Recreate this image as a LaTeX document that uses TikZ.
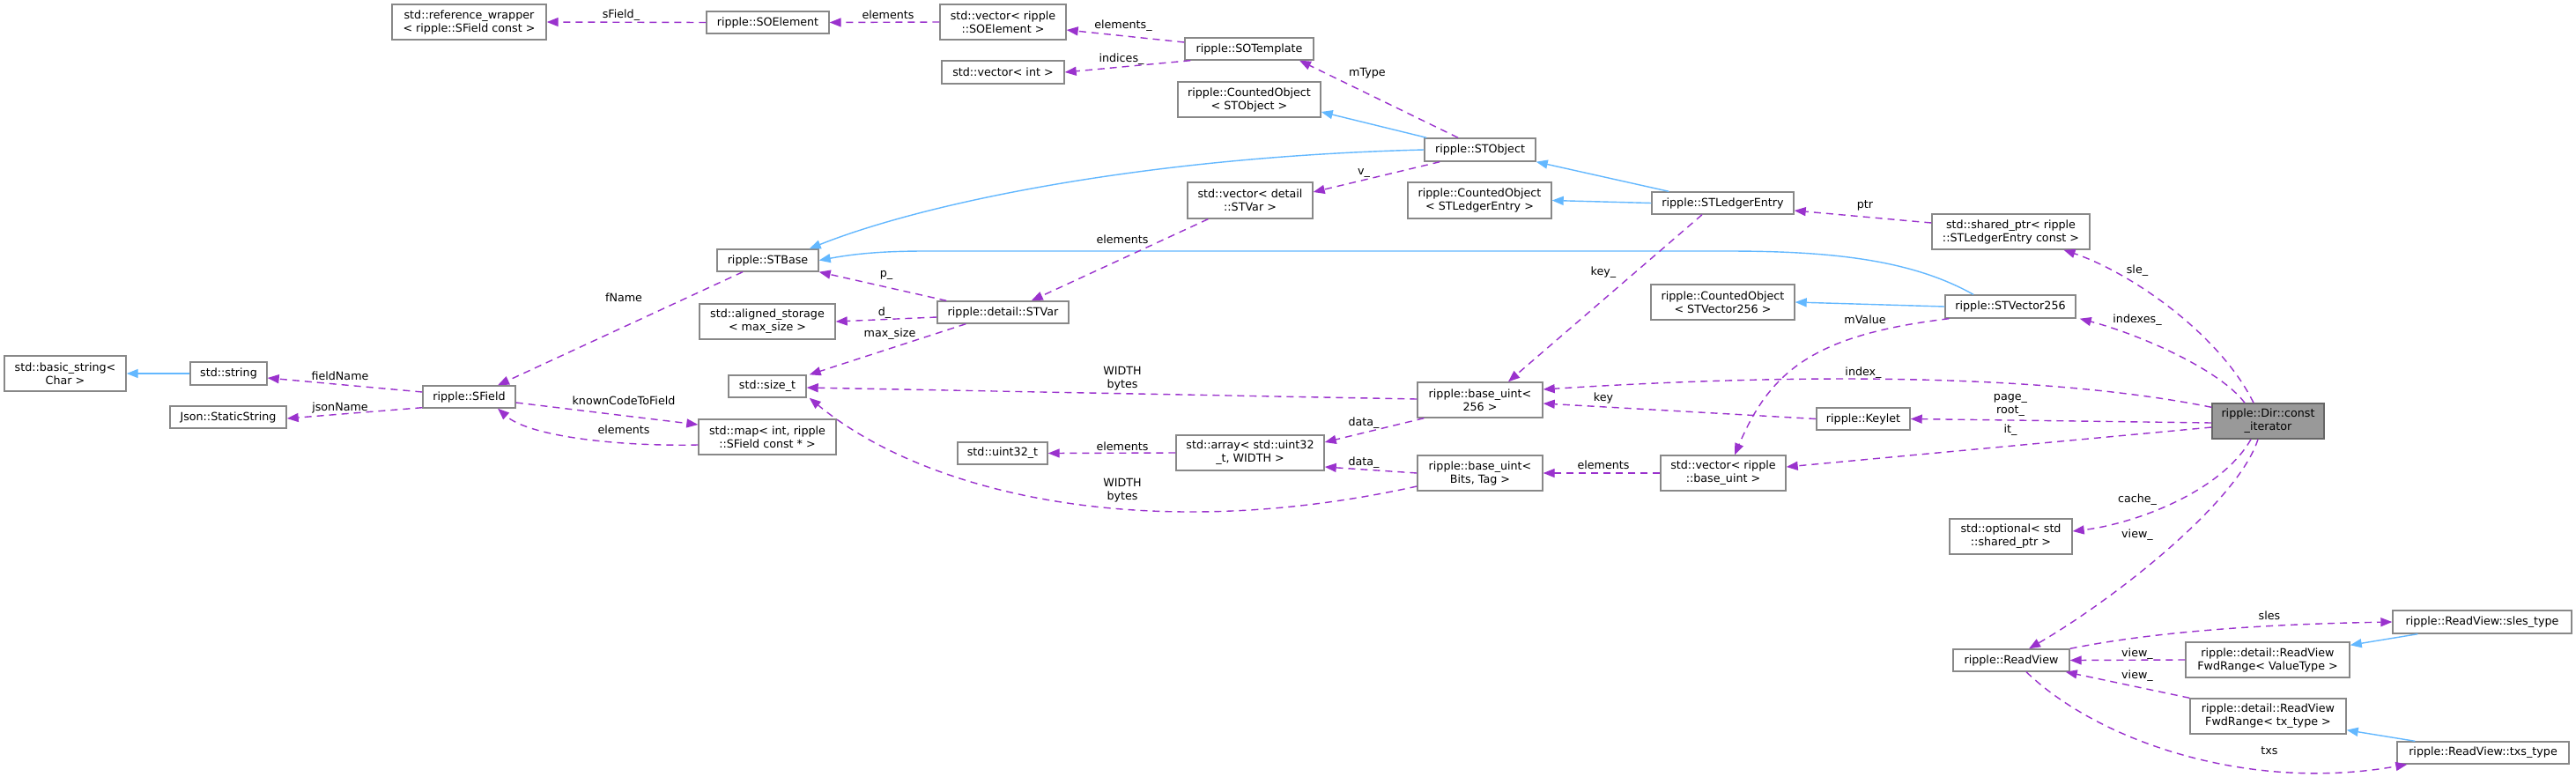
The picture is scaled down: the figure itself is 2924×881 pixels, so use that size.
\documentclass[tikz,border=0pt]{standalone}
\usepackage{fontspec}
\setmainfont{DejaVu Sans}
\usetikzlibrary{arrows.meta}
\definecolor{edgepurple}{HTML}{9A32CD}
\definecolor{edgeblue}{HTML}{63B8FF}
\definecolor{boxborder}{HTML}{888888}
\definecolor{focusfill}{HTML}{999999}
\definecolor{focusborder}{HTML}{666666}
\newcommand\bx[7][]{\node[box,#1,minimum width={(#5-#3)*1pt},minimum height={(#6-#4)*1pt}] (#2) at ({(#3+#5)/2},{(#4+#6)/2}) {#7};}
\tikzset{
  box/.style={draw=boxborder,line width=1.4pt,fill=white,inner sep=0pt,align=center,font=\fontsize{12.7}{15}\selectfont},
  lbl/.style={inner sep=0pt,align=center,font=\fontsize{12.7}{15}\selectfont},
  uses/.style={draw=edgepurple,line width=1.4pt,dash pattern=on 8pt off 6pt,-{Triangle[length=13pt,width=10pt]}},
  inh/.style={draw=edgeblue,line width=1.4pt,-{Triangle[length=13pt,width=10pt]}}
}
\begin{document}
\begin{tikzpicture}[x=1pt,y=-1pt]
\useasboundingbox[fill=white] (0,0) rectangle (2924,881);
% nodes
\bx{refwrap}{445}{5}{620}{45}{std::reference\_wrapper\\< ripple::SField const >}
\bx{soelem}{802}{13}{941}{38}{ripple::SOElement}
\bx{vecsoelem}{1067}{5}{1210}{45}{std::vector< ripple\\::SOElement >}
\bx{sotempl}{1345}{43}{1491}{68}{ripple::SOTemplate}
\bx{vecint}{1069}{69}{1208}{95}{std::vector< int >}
\bx{coSTObj}{1337}{93}{1499}{133}{ripple::CountedObject\\< STObject >}
\bx{stobj}{1617}{157}{1743}{183}{ripple::STObject}
\bx{vecstvar}{1348}{207}{1490}{248}{std::vector< detail\\::STVar >}
\bx{coSLE}{1598}{207}{1761}{248}{ripple::CountedObject\\< STLedgerEntry >}
\bx{sle}{1875}{218}{2036}{243}{ripple::STLedgerEntry}
\bx{shptr}{2193}{243}{2372}{283}{std::shared\_ptr< ripple\\::STLedgerEntry const >}
\bx{stbase}{814}{283}{929}{308}{ripple::STBase}
\bx{stvar}{1064}{342}{1213}{367}{ripple::detail::STVar}
\bx{aligned}{794}{345}{948}{385}{std::aligned\_storage\\< max\_size >}
\bx{coV}{1874}{323}{2037}{363}{ripple::CountedObject\\< STVector256 >}
\bx{stv}{2208}{335}{2356}{361}{ripple::STVector256}
\bx{basicstr}{5}{404}{143}{444}{std::basic\_string<\\Char >}
\bx{string}{216}{411}{303}{437}{std::string}
\bx{sfield}{480}{438}{585}{463}{ripple::SField}
\bx{jsonss}{193}{461}{325}{486}{Json::StaticString}
\bx{sizet}{827}{426}{915}{451}{std::size\_t}
\bx{map}{793}{476}{949}{516}{std::map< int, ripple\\::SField const * >}
\bx{bu}{1609}{434}{1751}{474}{ripple::base\_uint<\\256 >}
\bx{keylet}{2062}{463}{2168}{488}{ripple::Keylet}
\bx[fill=focusfill,draw=focusborder]{iter}{2511}{458}{2638}{498}{ripple::Dir::const\\\_iterator}
\bx{array}{1335}{494}{1503}{534}{std::array< std::uint32\\\_t, WIDTH >}
\bx{uint}{1087}{502}{1189}{527}{std::uint32\_t}
\bx{buBT}{1609}{517}{1751}{557}{ripple::base\_uint<\\Bits, Tag >}
\bx{vecbu}{1885}{517}{2027}{557}{std::vector< ripple\\::base\_uint >}
\bx{optional}{2213}{589}{2352}{629}{std::optional< std\\::shared\_ptr >}
\bx{readview}{2217}{737}{2349}{762}{ripple::ReadView}
\bx{slestype}{2716}{693}{2919}{719}{ripple::ReadView::sles\_type}
\bx{fwdVT}{2481}{729}{2667}{769}{ripple::detail::ReadView\\FwdRange< ValueType >}
\bx{fwdTX}{2486}{793}{2663}{833}{ripple::detail::ReadView\\FwdRange< tx\_type >}
\bx{txstype}{2721}{842}{2916}{867}{ripple::ReadView::txs\_type}
% inheritance edges
\draw[inh] ([xshift=3pt]stobj.north west) -- ([yshift=-14pt]coSTObj.east);
\draw[inh] (sle.west) -- (coSLE.east);
\draw[inh] ([xshift=20pt]sle.north west) -- (stobj.south east);
\draw[inh] (stobj.west) .. controls (1300,178) and (1050,230) .. ([xshift=-11pt]stbase.north east);
\draw[inh] ([xshift=-42pt]stv.north) .. controls (2170,295) and (2080,285) .. (1960,285) -- (1050,285) .. controls (990,285) and (960,290) .. (stbase.east);
\draw[inh] (stv.west) -- (coV.east);
\draw[inh] (string.west) -- (basicstr.east);
\draw[inh] ([xshift=29pt]slestype.south west) -- ([yshift=-4pt]fwdVT.north east);
\draw[inh] ([xshift=21pt]txstype.north west) -- ([yshift=5pt]fwdTX.south east);
% usage edges
\draw[uses] (soelem.west) -- (refwrap.east);
\draw[uses] (vecsoelem.west) -- (soelem.east);
\draw[uses] ([yshift=7.5pt]sotempl.west) -- ([yshift=-9pt]vecsoelem.east);
\draw[uses] ([xshift=7pt]sotempl.south west) -- (vecint.east);
\draw[uses] ([xshift=-25pt]stobj.north) -- ([xshift=57pt]sotempl.south);
\draw[uses] ([xshift=18pt]stobj.south west) -- ([yshift=9.5pt]vecstvar.east);
\draw[uses] ([xshift=-23.5pt]sle.south) -- ([xshift=32pt]bu.north);
\draw[uses] ([yshift=10pt]shptr.west) -- ([yshift=-8.5pt]sle.east);
\draw[uses] ([xshift=5pt]stv.south west) .. controls (2060,380) and (2010,420) .. ([xshift=13pt]vecbu.north);
\draw[uses] ([xshift=-16.5pt]iter.north) .. controls (2520,380) and (2420,310) .. ([xshift=60pt]shptr.south);
\draw[uses] ([xshift=-26.5pt]iter.north) .. controls (2520,420) and (2430,380) .. ([xshift=4pt]stv.south east);
\draw[uses] ([yshift=-5pt]iter.north west) .. controls (2350,430) and (2100,420) .. ([yshift=12pt]bu.east);
\draw[uses] ([yshift=-2pt]iter.west) -- (keylet.east);
\draw[uses] (keylet.west) -- ([yshift=-4pt]bu.east);
\draw[uses] ([yshift=-7pt]iter.west) -- ([yshift=7pt]vecbu.east);
\draw[uses] ([xshift=-19.5pt]iter.south) .. controls (2520,560) and (2420,595) .. ([yshift=6pt]optional.east);
\draw[uses] ([xshift=-11.5pt]iter.south) .. controls (2540,570) and (2400,680) .. ([xshift=20pt]readview.north);
\draw[uses] (readview.north east) .. controls (2460,714) and (2600,708) .. (slestype.west);
\draw[uses] (fwdVT.west) -- (readview.east);
\draw[uses] (fwdTX.north west) -- ([xshift=-5pt]readview.south east);
\draw[uses] ([xshift=17pt]readview.south) .. controls (2380,840) and (2550,900) .. ([xshift=12pt]txstype.south west);
\draw[uses] ([yshift=5.5pt]sfield.west) -- ([yshift=-5pt]string.east);
\draw[uses] ([yshift=1pt]sfield.south west) -- ([yshift=-1.5pt]jsonss.east);
\draw[uses] ([xshift=-28.5pt]stbase.south) -- ([xshift=32.5pt]sfield.north);
\draw[uses] ([yshift=-6.5pt]sfield.east) -- ([yshift=14pt]map.west);
\draw[uses] ([yshift=-9pt]map.west) .. controls (700,507) and (600,495) .. ([xshift=32.5pt]sfield.south);
\draw[uses] ([xshift=11pt]stvar.north west) -- (stbase.south east);
\draw[uses] ([yshift=-5.5pt]stvar.west) -- (aligned.east);
\draw[uses] ([xshift=33pt]stvar.south west) -- ([xshift=3pt]sizet.north east);
\draw[uses] ([xshift=24pt]vecstvar.south west) -- ([xshift=-43pt]stvar.north east);
\draw[uses] ([yshift=1pt]bu.west) -- ([yshift=-1.5pt]sizet.east);
\draw[uses] ([xshift=8pt]bu.south west) -- ([yshift=12pt]array.east);
\draw[uses] (array.west) -- (uint.east);
\draw[uses] (buBT.west) -- ([yshift=-16pt]array.east);
\draw[uses] (vecbu.west) -- (buBT.east);
\draw[uses] ([yshift=-15pt]buBT.west) .. controls (1300,620) and (1050,560) .. ([xshift=3pt]sizet.south east);
% labels
\node[lbl] (l1) at (705,17) {sField\_};
\node[lbl] (l2) at (1008,17) {elements};
\node[lbl] (l3) at (1275,29) {elements\_};
\node[lbl] (l4) at (1273,67) {indices\_};
\node[lbl] (l5) at (1552,83) {mType};
\node[lbl] (l6) at (1548,197) {v\_};
\node[lbl] (l7) at (1274,272) {elements};
\node[lbl] (l8) at (2117,233) {ptr};
\node[lbl] (l9) at (1820,309) {key\_};
\node[lbl] (l10) at (2426,307) {sle\_};
\node[lbl] (l11) at (2426,363) {indexes\_};
\node[lbl] (l12) at (2117,363) {mValue};
\node[lbl] (l13) at (2115,423) {index\_};
\node[lbl] (l14) at (2282,460) {page\_\\root\_};
\node[lbl] (l15) at (2282,488) {it\_};
\node[lbl] (l16) at (1820,452) {key};
\node[lbl] (l17) at (1820,528) {elements};
\node[lbl] (l18) at (2426,567) {cache\_};
\node[lbl] (l19) at (2426,607) {view\_};
\node[lbl] (l20) at (2576,699) {sles};
\node[lbl] (l21) at (2426,742) {view\_};
\node[lbl] (l22) at (2426,767) {view\_};
\node[lbl] (l23) at (2576,852) {txs};
\node[lbl] (l24) at (386,427) {fieldName};
\node[lbl] (l25) at (386,463) {jsonName};
\node[lbl] (l26) at (708,338) {fName};
\node[lbl] (l27) at (708,455) {knownCodeToField};
\node[lbl] (l28) at (708,488) {elements};
\node[lbl] (l29) at (1006,312) {p\_};
\node[lbl] (l30) at (1004,355) {d\_};
\node[lbl] (l31) at (1010,379) {max\_size};
\node[lbl] (l32) at (1274,430) {WIDTH\\bytes};
\node[lbl] (l33) at (1548,480) {data\_};
\node[lbl] (l34) at (1274,507) {elements};
\node[lbl] (l35) at (1548,525) {data\_};
\node[lbl] (l36) at (1274,557) {WIDTH\\bytes};
\end{tikzpicture}
\end{document}
